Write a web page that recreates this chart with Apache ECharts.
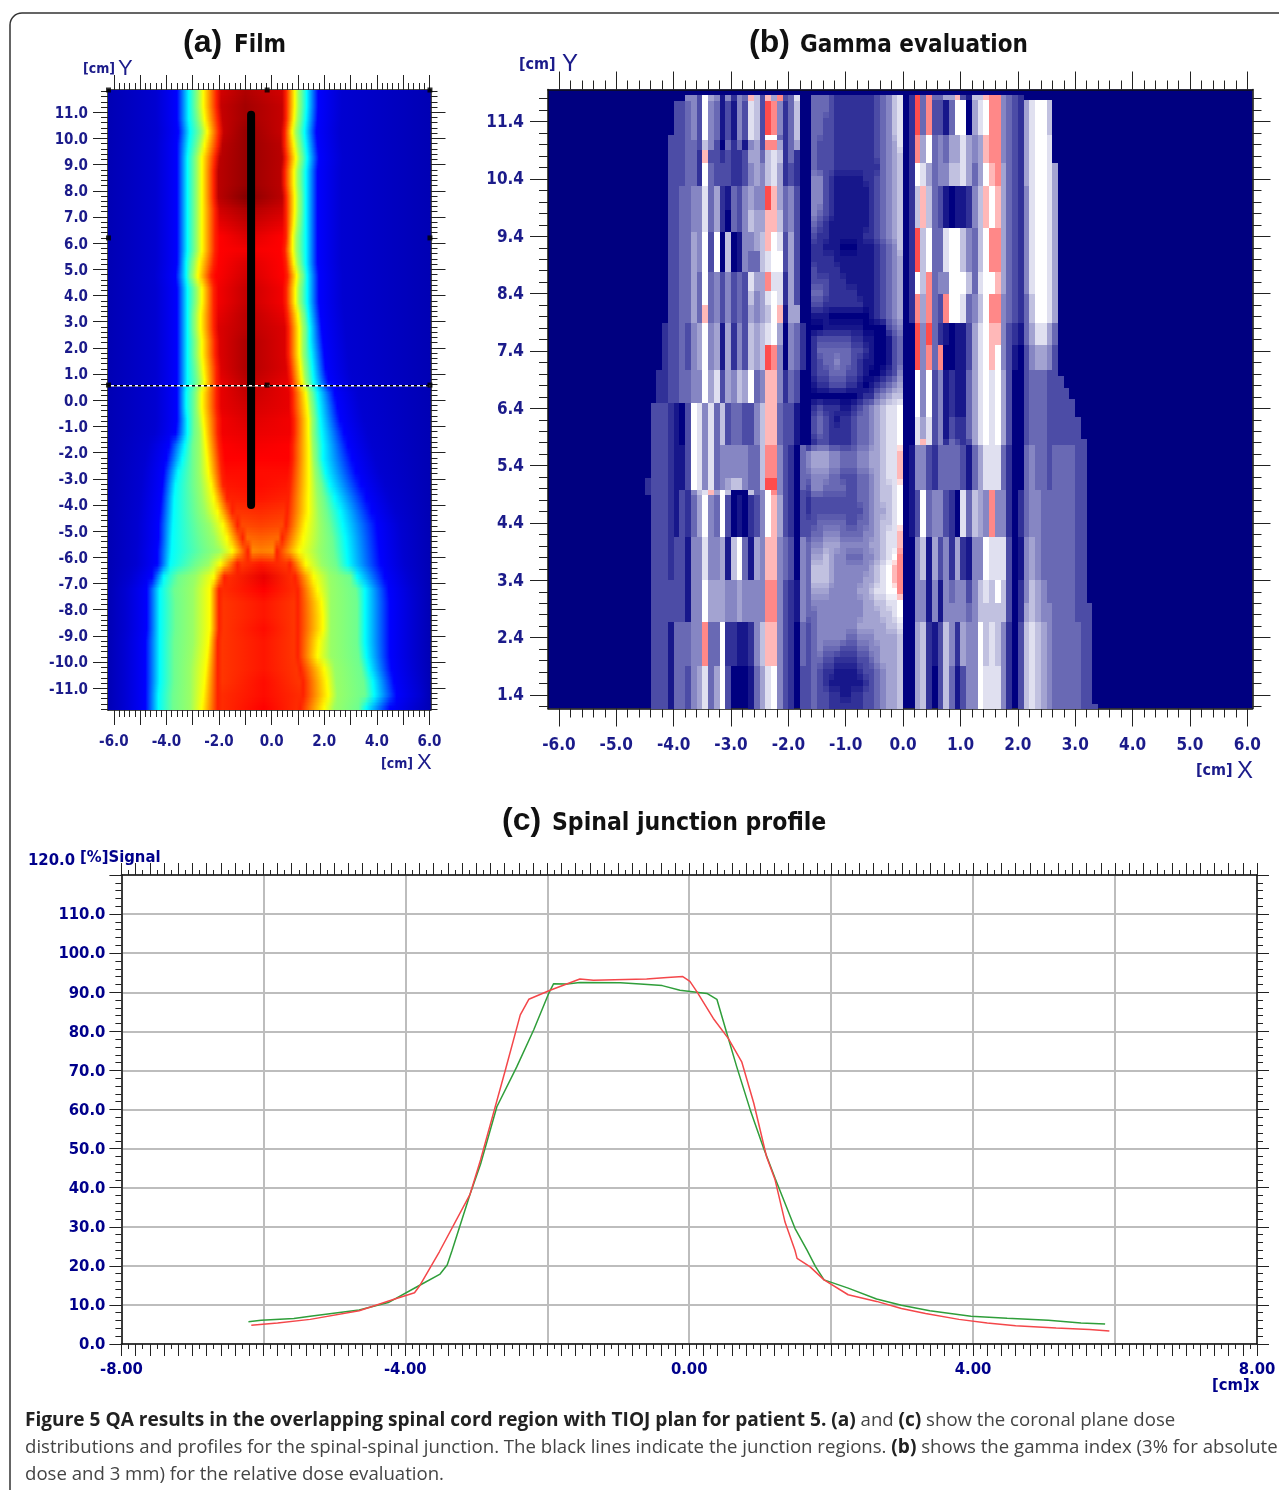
<!DOCTYPE html>
<html><head><meta charset="utf-8">
<style>html,body{margin:0;padding:0;background:#fff}#c{width:1279px;height:1490px}</style>
<script src="https://cdn.jsdelivr.net/npm/echarts@6/dist/echarts.min.js"></script>
</head><body><div id="c"></div>
<script>
// ---------- Panel (a): film, contour positions (cm) read per 0.5 cm row ----------
const filmY=[11.75,11.25,10.75,10.25,9.75,9.25,8.75,8.25,7.75,7.25,6.75,6.25,5.75,5.25,4.75,4.25,3.75,3.25,2.75,2.25,1.75,1.25,.75,.25,-.25,-.75,-1.25,-1.75,-2.25,-2.75,-3.25,-3.75,-4.25,-4.75,-5.25,-5.75,-6.25,-6.75,-7.25,-7.75,-8.25,-8.75,-9.25,-9.75,-10.25,-10.75,-11.25,-11.75];
const filmBlueL=[-3.6,-3.6,-3.6,-3.55,-3.6,-3.6,-3.6,-3.6,-3.6,-3.6,-3.6,-3.6,-3.6,-3.6,-3.65,-3.6,-3.6,-3.6,-3.6,-3.6,-3.6,-3.6,-3.6,-3.6,-3.6,-3.6,-3.65,-3.9,-4.0,-4.1,-4.15,-4.2,-4.25,-4.3,-4.3,-4.35,-4.35,-4.55,-4.75,-4.75,-4.75,-4.75,-4.8,-4.8,-4.8,-4.8,-4.8,-4.8];
const filmCyanL=[-3.15,-3.15,-3.15,-3.1,-3.15,-3.2,-3.2,-3.2,-3.2,-3.2,-3.2,-3.2,-3.2,-3.25,-3.25,-3.2,-3.2,-3.2,-3.2,-3.2,-3.2,-3.2,-3.2,-3.25,-3.25,-3.2,-3.2,-3.3,-3.4,-3.55,-3.65,-3.7,-3.72,-3.75,-3.78,-3.8,-3.85,-4.1,-4.25,-4.25,-4.25,-4.25,-4.25,-4.25,-4.25,-4.25,-4.3,-4.3];
const filmG1L=[-2.9,-2.9,-2.85,-2.75,-2.85,-2.95,-2.95,-2.95,-2.95,-2.95,-2.95,-2.95,-2.95,-3.05,-3.1,-2.95,-2.95,-3.0,-3.0,-2.95,-2.95,-2.9,-2.85,-2.95,-2.95,-2.95,-2.95,-3.0,-3.0,-3.0,-3.0,-2.95,-2.9,-2.8,-2.7,-2.6,-2.9,-3.55,-3.7,-3.65,-3.65,-3.65,-3.7,-3.7,-3.7,-3.7,-3.75,-3.75];
const filmG2L=[-2.8,-2.8,-2.75,-2.65,-2.75,-2.85,-2.85,-2.85,-2.85,-2.85,-2.85,-2.85,-2.85,-2.95,-3.0,-2.85,-2.85,-2.9,-2.9,-2.85,-2.85,-2.8,-2.75,-2.85,-2.85,-2.8,-2.75,-2.75,-2.75,-2.75,-2.7,-2.65,-2.55,-2.35,-2.2,-2.0,-2.4,-2.9,-3.0,-3.0,-3.0,-3.0,-3.0,-3.05,-3.1,-3.1,-3.1,-3.1];
const filmYellowL=[-2.6,-2.6,-2.55,-2.45,-2.55,-2.65,-2.65,-2.65,-2.65,-2.65,-2.65,-2.65,-2.65,-2.75,-2.8,-2.65,-2.65,-2.7,-2.7,-2.65,-2.65,-2.6,-2.55,-2.65,-2.65,-2.6,-2.55,-2.5,-2.45,-2.4,-2.3,-2.2,-2.05,-1.85,-1.7,-1.5,-1.95,-2.2,-2.35,-2.35,-2.35,-2.35,-2.4,-2.45,-2.5,-2.55,-2.6,-2.65];
const filmRedL=[-2.1,-2.1,-2.05,-2.0,-2.05,-2.15,-2.2,-2.2,-2.2,-2.15,-2.15,-2.15,-2.15,-2.2,-2.3,-2.2,-2.2,-2.2,-2.2,-2.15,-2.15,-2.1,-2.1,-2.1,-2.1,-2.05,-2.05,-2.0,-1.95,-1.9,-1.85,-1.7,-1.5,-1.3,-1.1,-.9,-1.3,-1.8,-2.0,-2.0,-2.0,-2.0,-2.05,-2.05,-2.05,-2.05,-2.05,-2.05];
const filmRedR=[.55,.55,.55,.5,.5,.55,.5,.5,.55,.55,.55,.55,.5,.55,.6,.55,.55,.6,.65,.65,.65,.7,.75,.8,.8,.85,.85,.8,.8,.75,.7,.65,.6,.55,.4,.2,.7,.9,1.0,1.0,1.0,1.0,1.0,1.0,1.1,1.2,1.2,1.1];
const filmYellowR=[.88,.88,.85,.78,.85,.92,.85,.85,.88,.88,.85,.8,.8,.85,.95,.9,.9,1.0,1.05,1.05,1.05,1.1,1.15,1.3,1.35,1.4,1.4,1.42,1.42,1.42,1.42,1.4,1.4,1.3,1.2,1.05,1.3,1.6,1.75,1.9,1.95,1.95,1.8,1.75,2.0,2.1,2.15,2.0];
const filmG2R=[1.03,1.03,1.0,.93,1.0,1.07,1.0,1.0,1.03,1.03,1.0,.95,.95,1.0,1.1,1.05,1.05,1.15,1.2,1.2,1.2,1.25,1.3,1.45,1.5,1.55,1.55,1.57,1.6,1.65,1.7,1.75,1.8,1.85,1.85,1.8,1.9,2.2,2.25,2.25,2.25,2.25,2.25,2.25,2.4,2.45,2.5,2.4];
const filmG1R=[1.13,1.13,1.1,1.03,1.1,1.17,1.1,1.1,1.13,1.13,1.1,1.05,1.05,1.1,1.2,1.15,1.15,1.25,1.3,1.3,1.3,1.35,1.4,1.55,1.6,1.65,1.65,1.7,1.72,1.8,1.9,2.0,2.1,2.2,2.3,2.35,2.45,3.0,3.2,3.25,3.25,3.25,3.25,3.3,3.4,3.5,3.55,3.3];
const filmCyanR=[1.33,1.33,1.3,1.25,1.3,1.35,1.3,1.3,1.3,1.3,1.3,1.3,1.3,1.3,1.35,1.35,1.35,1.4,1.45,1.45,1.5,1.55,1.6,1.75,1.8,1.85,1.9,1.95,1.95,2.05,2.2,2.4,2.6,2.7,2.8,2.85,2.9,3.25,3.55,3.55,3.55,3.55,3.55,3.6,3.7,3.85,3.9,3.6];
const filmBlueR=[1.77,1.77,1.75,1.7,1.75,1.8,1.75,1.75,1.75,1.75,1.75,1.75,1.75,1.75,1.8,1.8,1.8,1.85,1.9,1.95,2.0,2.05,2.15,2.4,2.5,2.6,2.75,2.9,3.05,3.2,3.4,3.6,3.8,4.0,4.05,4.1,4.15,4.3,4.45,4.5,4.5,4.5,4.5,4.5,4.55,4.65,4.75,4.5];
const filmPlateau=[.93,.94,.94,.94,.95,.95,.95,.95,.95,.93,.91,.89,.89,.89,.89,.9,.9,.91,.92,.92,.92,.92,.91,.91,.91,.9,.9,.89,.89,.88,.87,.86,.84,.82,.79,.76,.84,.85,.85,.84,.84,.84,.84,.84,.84,.84,.85,.85];
const filmPeak=[.96,.97,.97,.98,.98,.98,.98,.98,.995,.96,.94,.92,.9,.92,.93,.94,.94,.95,.95,.96,.96,.96,.95,.94,.93,.92,.91,.9,.89,.88,.88,.87,.85,.83,.8,.77,.87,.91,.89,.87,.87,.88,.87,.87,.87,.88,.88,.89];
const filmPeakX=[-1,-1,-1,-1,-1,-1,-1,-1,-1,-1,-1,-1,-1,-1,-1,-1,-1,-1,-1,-1,-1,-1,-1,-1,-1,-1,-1,-1,-1,-1,-.4,-.4,-.4,-.4,-.4,-.4,-.4,-.3,-.3,-.3,-.3,-.3,-.3,-.3,-.3,-.3,-.3,-.3];
const junctionX=[-.78,-.78], junctionY=[10.9,-4.0];
const profileLineY=.55;
const handleX=[-6.2,-.17,6.02,-6.2,6.02,-6.2,-.17,6.02], handleY=[11.85,11.85,11.85,6.2,6.2,.58,.58,.58];
const filmXLabels=[-6,-4,-2,0,2,4,6];

// ---------- Panel (b): gamma cells; 0-9 = navy to white, a-c = pink to red ----------
const gammaLeftEdges=[11.86,11.76,11.17,11.08,10.9,10.67,10.27,9.85,9.48,9.15,8.77,8.45,8.2,7.88,7.5,7.07,6.5,5.76,5.18,4.98,4.89,4.16,3.4,2.68,1.9,1.16];
const gammaLeftRows=[
"0000000 5 5 3 9 6 5 1 5 2 5 4 a 7 3 a 6 b 3 4 8 0",
"00000 3 3 4 5 3 9 5 4 1 3 1 5 3 8 7 3 c b 5 2 4 7 0",
"0000 3 3 3 4 5 3 9 5 4 1 3 1 5 3 8 7 3 9 9 4 2 4 7 0",
"0000 3 3 3 4 4 3 7 5 3 0 4 2 4 1 5 6 3 b b 6 2 4 6 0",
"0000 3 3 3 4 4 2 a 3 3 2 3 2 2 3 6 6 4 7 8 7 2 4 2 0",
"0000 3 3 3 4 4 2 9 4 3 3 3 2 2 3 5 6 5 7 8 6 2 3 2 0",
"0000 3 3 4 4 5 5 8 4 6 2 1 4 3 5 6 5 5 c a 6 4 5 3 0",
"0000 3 3 4 4 5 5 8 4 6 2 0 4 3 5 7 6 6 a a 7 4 5 3 0",
"0000 3 3 4 4 6 5 9 3 9 0 7 0 1 5 5 6 7 a 9 8 3 6 3 0",
"0000 3 3 4 4 6 5 9 3 9 0 7 0 1 5 4 4 7 8 9 9 3 6 3 0",
"0000 3 3 4 4 6 4 9 4 5 3 5 3 4 3 8 6 6 b 8 8 2 6 3 0",
"0000 3 3 4 4 6 4 9 4 5 3 5 3 4 3 7 5 6 8 9 8 2 6 3 0",
"0000 3 3 4 4 6 4 a 4 5 3 5 3 4 3 6 5 6 7 9 a 1 6 6 0",
"000 2 3 3 4 3 5 6 9 5 6 1 6 2 5 3 7 6 7 8 9 6 0 5 4 2",
"000 2 3 3 4 3 5 6 9 5 6 1 6 2 5 3 7 6 7 c b 5 0 5 4 2",
"00 2 2 3 3 4 4 5 5 9 6 8 3 6 5 7 6 9 4 5 a a 5 2 4 3 0",
"0 3 3 3 2 1 0 3 9 8 5 8 4 7 3 4 4 3 3 5 7 a a 4 3 3 1 0",
"0 3 3 3 2 1 1 3 9 8 5 8 4 5 5 5 5 5 4 4 7 b b 5 3 2 0 4",
"2 3 3 3 2 1 1 3 9 8 5 8 4 5 6 7 7 5 4 4 7 c c 5 3 2 0 4",
"2 3 3 3 2 1 3 2 5 7 8 a 6 9 7 0 0 0 7 4 5 9 b 5 3 2 0 3",
"0 3 3 3 2 1 3 2 4 6 9 5 4 9 3 0 1 0 2 3 5 9 a 6 3 2 0 3",
"0 3 3 3 2 3 3 1 5 5 8 5 5 6 1 7 9 4 1 6 5 a a 5 4 3 0 5",
"0 3 3 3 3 3 3 1 5 5 9 6 6 6 5 5 6 5 5 5 5 b b 5 3 2 1 5",
"0 3 3 3 1 4 4 4 5 5 b 4 4 9 2 2 1 1 2 5 7 a a 5 3 2 0 4",
"0 3 3 3 1 4 4 3 5 6 8 4 6 9 3 0 0 0 1 4 6 8 9 5 3 2 0 3"];
const gammaCentreTop=[11.86,11.66,11.46,11.26,11.06,10.86,10.66,10.46,10.26,10.06,9.86,9.66,9.46,9.26,9.06,8.86,8.66,8.46,8.26,8.06,7.86,7.66,7.46,7.26,7.06,6.86,6.66,6.46,6.26,6.06,5.86,5.66,5.46,5.26,5.06,4.86,4.66,4.46,4.26,4.06,3.86,3.66,3.46,3.26,3.06,2.86,2.66,2.46,2.26,2.06,1.86,1.66,1.46,1.26];
const gammaCentreRows=["044432222222345780","044432222222345780","044332222222345780","044332222222345780","043332222222345680","043332222222345670","043332222222245670","055321111122345670","055321111112345670","055321111112345670","054321111112345670","043211111112345670","032211111122345670","022111000111234570","022221111111234560","032222111111234560","033322211111234560","044322222111234560","033222222211234560","011100000001234560","000111111100003450","023333332211001340","024444443321001340","023445443211001340","023344433210012350","012233322101234560","000000000122456770","023222112345678890","034321223445678890","034322223445678890","023322223445678890","5666554445566788a0","5666554445566788a0","4555443334456788a0","355444433445677890","233333333445677890","233333333345667890","334444433445677890","3445554444556788a0","4556665555566788a0","4667655444556789b0","477765555556789ab0","477765555566789ab0","4666555556678899b0","455555555566778890","445555555566677890","345555555666667780","345555544555666670","345444333445566670","344332222334566670","343221111233456670","343211111123456670","343322112233456670","343322222233456670"];
const gammaRightEdges=[11.86,11.78,11.17,10.67,10.27,9.55,8.77,8.4,7.88,7.5,7.07,6.97,6.75,6.56,6.25,5.86,5.76,4.98,4.16,3.4,3.0,2.68,1.9,1.25,1.16];
const gammaRightRows=[
"2 c 4 b 4 4 6 6 a 3 1 7 7 a b b 5 4 3 2",
"2 c 4 b 3 3 1 4 9 9 0 6 8 9 b b 5 4 3 2 6 8 9 9 7",
"2 b 6 9 4 5 4 6 6 8 6 5 6 a b b 5 4 3 2 6 8 9 9 8",
"2 9 8 6 4 5 5 7 7 8 6 4 6 9 a b 6 4 3 2 6 8 9 9 8 6",
"2 7 a 7 4 3 1 0 1 1 2 5 7 a 9 a 6 4 3 2 5 8 9 9 8 6",
"2 c 7 9 4 4 8 9 9 7 5 4 7 9 b b 6 4 3 2 5 8 9 9 8 6",
"2 9 7 b 4 5 5 9 9 9 7 4 8 9 9 a 6 4 3 2 5 8 9 9 8 6",
"2 b 6 b 4 3 b 9 9 8 4 5 7 9 b b 5 4 3 2 4 7 9 9 8 6",
"0 c 5 c 4 2 1 0 1 1 3 6 8 9 a a 5 3 2 1 4 6 8 8 6 4",
"0 c 5 b 4 b 0 0 1 1 3 6 8 9 a 9 5 3 1 0 3 5 6 6 5 3",
"0 9 5 9 3 5 1 2 1 1 4 6 8 9 8 9 6 3 0 0 3 4 4 4 3 3",
"0 9 5 9 3 5 1 2 1 1 4 6 8 9 8 9 6 3 0 0 3 4 4 4 3 3 3",
"0 9 5 9 3 5 1 2 1 1 4 6 8 9 8 9 6 3 0 0 3 4 4 4 3 3 3 3",
"0 9 5 9 3 5 1 2 1 1 4 6 8 9 8 9 6 3 0 0 3 4 4 4 3 3 3 3 3",
"0 8 6 8 3 5 1 3 2 2 4 6 8 9 8 9 6 3 0 0 3 4 4 4 3 3 3 3 3 3",
"0 8 a 8 3 5 2 4 3 2 3 6 8 9 8 9 6 3 0 0 3 4 4 4 3 3 3 3 3 3 3",
"1 5 5 3 2 4 4 4 4 3 1 4 6 8 8 8 4 2 0 0 4 5 4 4 3 4 4 4 4 3 3",
"1 3 9 4 5 5 3 2 0 8 4 7 6 5 b 5 5 2 0 2 4 5 5 4 4 4 4 4 4 3 3",
"0 5 7 1 6 3 5 2 6 2 1 5 5 9 8 8 8 3 0 1 5 6 5 4 4 4 4 4 4 3 3",
"0 5 5 1 5 1 5 4 5 5 3 5 7 8 7 9 7 3 0 2 5 7 6 5 4 4 4 4 4 3 3",
"0 5 5 1 5 1 5 5 5 5 4 5 7 7 7 7 7 3 0 2 6 7 6 5 5 4 4 4 4 3 3 3",
"0 6 7 2 1 3 7 5 2 6 5 5 9 7 8 7 5 2 0 3 7 8 7 6 5 4 4 4 4 4 3 3",
"0 6 7 2 0 3 7 4 1 3 5 5 9 8 8 8 5 2 0 3 7 8 7 6 5 4 4 4 4 4 3 3",
"0 6 7 2 0 3 7 4 1 3 5 5 9 8 8 8 5 2 0 3 7 8 7 6 5 4 4 4 4 4 3 3 3"];
const gammaLeftStart=-4.5, gammaCentreStart=-1.7, gammaRightStart=.1, gammaCellW=.1;
const gammaXLabels=[-6,-5,-4,-3,-2,-1,0,1,2,3,4,5,6];
const gammaYLabels=[1.4,2.4,3.4,4.4,5.4,6.4,7.4,8.4,9.4,10.4,11.4];

// ---------- Panel (c): profile ----------
const redX=[-6.17,-5.8,-5.34,-4.65,-4.18,-3.87,-3.79,-3.52,-3.09,-2.94,-2.59,-2.38,-2.26,-1.96,-1.54,-1.35,-.6,-.31,-.09,.01,.11,.34,.55,.74,.91,1.09,1.21,1.35,1.49,1.52,1.7,1.9,2.24,2.64,2.99,3.33,3.8,4.2,4.6,5.17,5.64,5.92];
const redY=[4.8,5.4,6.3,8.5,11.3,13.1,15.1,23.6,38.2,47.1,70.1,84.2,88.2,90.5,93.4,93.1,93.4,93.8,94,92.8,90.1,83.3,78.2,72.2,61.6,47.9,42,31.2,24,21.9,19.8,16.4,12.6,10.9,9.1,7.8,6.3,5.4,4.7,4.1,3.7,3.3];
const greenX=[-6.21,-6.03,-5.57,-5.34,-4.65,-4.24,-3.79,-3.51,-3.41,-3.34,-3.09,-2.94,-2.71,-2.43,-2.19,-1.98,-1.91,-1.72,-1.54,-.97,-.69,-.38,-.13,.25,.39,.53,.67,.86,1.05,1.21,1.49,1.66,1.78,1.9,2.24,2.64,2.99,3.39,3.97,4.48,5.06,5.52,5.86];
const greenY=[5.7,6.1,6.5,7.1,8.7,10.6,15.1,17.9,20.2,24,38.2,46,60.7,70.9,80.4,89.7,92.2,92.1,92.5,92.4,92.1,91.7,90.5,89.7,88.2,79.5,70.9,59.9,50,42.4,29.6,24,19.8,16.4,14.3,11.5,9.9,8.5,7.1,6.6,6.1,5.4,5.1];
const profileXLabels=[-8,-4,0,4,8];

const navy='#1b1b8a', navyC='#00008b', tick='#222';
const fontCond="'DejaVu Sans Condensed','DejaVu Sans'";
const jetStops=[[0,0,0,128],[.11,0,0,255],[.35,0,255,255],[.5,127,255,127],[.65,255,255,0],[.89,255,0,0],[1,128,0,0]];
function jet(v){for(let i=1;i<jetStops.length;i++){const a=jetStops[i-1],b=jetStops[i];if(v<=b[0]){const t=(v-a[0])/(b[0]-a[0]);return `rgb(${Math.round(a[1]+(b[1]-a[1])*t)},${Math.round(a[2]+(b[2]-a[2])*t)},${Math.round(a[3]+(b[3]-a[3])*t)})`;}}return 'rgb(128,0,0)';}
function gammaColor(c){if(c==='a')return '#ffb8b8';if(c==='b')return '#ff8888';if(c==='c')return '#ff4c4c';const g=Math.pow((+c)/9,1.1);return `rgb(${Math.round(255*g)},${Math.round(255*g)},${Math.round(128+127*g)})`;}

function seq(a,b,st){const r=[];const n=Math.round((b-a)/st);for(let i=0;i<=n;i++)r.push(+(a+i*st).toFixed(3));return r;}
const xAxes=[],yAxes=[];
function tickAxis(list,grid,pos,min,max,values,len,extra){
  list.push(Object.assign({type:'value',gridIndex:grid,position:pos,min,max,
    axisLine:{show:false,onZero:false},
    axisTick:{show:true,length:len,customValues:values,lineStyle:{color:tick,width:1}},
    axisLabel:{show:false},splitLine:{show:false}},extra||{}));
}
function frame(grid,xr,yr,xMaj,xMin,yMaj,yMin,L,xLab,yLab){
  const line={show:true,onZero:false,lineStyle:{color:'#111',width:1.5}};
  tickAxis(xAxes,grid,'bottom',xr[0],xr[1],xMaj,L.maj,{axisLine:line,axisLabel:xLab});
  tickAxis(yAxes,grid,'left',yr[0],yr[1],yMaj,L.majY,{axisLine:line,axisLabel:yLab});
  tickAxis(xAxes,grid,'top',xr[0],xr[1],xMaj,L.maj,{axisLine:line});
  tickAxis(yAxes,grid,'right',yr[0],yr[1],yMaj,L.majY,{axisLine:line});
  tickAxis(xAxes,grid,'bottom',xr[0],xr[1],xMin,L.min);
  tickAxis(xAxes,grid,'top',xr[0],xr[1],xMin,L.min);
  tickAxis(yAxes,grid,'left',yr[0],yr[1],yMin,L.minY);
  tickAxis(yAxes,grid,'right',yr[0],yr[1],yMin,L.minY);
}
const label=(font,size,color,margin,vals,fmt,lh)=>Object.assign({show:true,customValues:vals,fontFamily:font,fontWeight:'bold',fontSize:size,color,margin,formatter:fmt},lh?{verticalAlign:'top',lineHeight:lh}:{});

// Panel a axes
const AX=[-6.22,6.04],AY=[-11.83,11.85];
frame(0,AX,AY,seq(-6,6,1),seq(-6,6,.2),seq(-11,11,1),seq(-11.8,11.8,.2),{maj:15,min:7,majY:15,minY:7},
  label(fontCond,15,navy,25,filmXLabels,v=>v.toFixed(1)),
  label(fontCond,15,navy,20,seq(-11,11,1),v=>v.toFixed(1),3));
const bIdx=xAxes.length,bIdy=yAxes.length;
// Panel b axes
const BX=[-6.19,6.09],BY=[1.165,11.96];
frame(1,BX,BY,seq(-6,6,1),seq(-6,6,.2),gammaYLabels,seq(1.2,11.8,.2),{maj:18,min:9,majY:18,minY:9},
  label(fontCond,17,navy,29,gammaXLabels,v=>v.toFixed(1)),
  label(fontCond,17,navy,24,gammaYLabels,v=>v.toFixed(1),2));
const cIdx=xAxes.length,cIdy=yAxes.length;
// Panel c axes
frame(2,[-8,8],[0,120],seq(-8,8,.2),seq(-7.9,7.9,.2),seq(0,120,10),seq(0,120,2),{maj:12,min:5,majY:12,minY:6},
  label(fontCond,16.5,navyC,17,profileXLabels,v=>v.toFixed(2)),
  label(fontCond,16.5,navyC,16,seq(0,110,10),v=>v.toFixed(1),2));
const gl={show:true,lineStyle:{color:'#bdbdbd',width:2}};
xAxes.push({type:'value',gridIndex:2,position:'bottom',min:-8,max:8,interval:2,axisLine:{show:false,onZero:false},axisTick:{show:false},axisLabel:{show:false},splitLine:gl});
yAxes.push({type:'value',gridIndex:2,position:'left',min:0,max:120,interval:10,axisLine:{show:false,onZero:false},axisTick:{show:false},axisLabel:{show:false},splitLine:gl});

// gamma cells: [x0, x1, top, bottom, level, opacity]
const gammaCells=[];
function addCells(rows,tops,bottoms,x0){rows.forEach((r,i)=>{const s=r.replace(/ /g,'');for(let j=0;j<s.length;j++){if(s[j]==='0')continue;gammaCells.push([+(x0+j*gammaCellW).toFixed(2),+(x0+(j+1)*gammaCellW).toFixed(2),tops[i],bottoms[i],s[j],1]);}});}
addCells(gammaLeftRows,gammaLeftEdges.slice(0,-1),gammaLeftEdges.slice(1),gammaLeftStart);
const centreBottoms=gammaCentreTop.map(t=>Math.max(t-.2,BY[0]));
addCells(gammaCentreRows,gammaCentreTop,centreBottoms,gammaCentreStart);
// soften the 0.2 cm centre rows: next row shows through the lower half of each row
gammaCentreRows.forEach((r,i)=>{const n=gammaCentreRows[i+1];if(!n)return;const s=n.replace(/ /g,'');for(let j=0;j<s.length;j++){gammaCells.push([+(gammaCentreStart+j*gammaCellW).toFixed(2),+(gammaCentreStart+(j+1)*gammaCellW).toFixed(2),gammaCentreTop[i]-.1,centreBottoms[i],s[j],.5]);}});
addCells(gammaRightRows,gammaRightEdges.slice(0,-1),gammaRightEdges.slice(1),gammaRightStart);

function filmStops(i){
  const w=AX[1]-AX[0],o=x=>Math.min(1,Math.max(0,(x-AX[0])/w));
  const P=[[AX[0],.045],[filmBlueL[i]-.8,.07],[filmBlueL[i],.11],[filmCyanL[i],.35],[filmG1L[i],.48],[filmG2L[i],.53],[filmYellowL[i],.65],[filmRedL[i],.86],[filmRedL[i]+.18,filmPlateau[i]],
    [filmPeakX[i],filmPeak[i]],[filmRedR[i]-.15,filmPlateau[i]],[filmRedR[i],.86],[filmYellowR[i],.65],[filmG2R[i],.53],[filmG1R[i],.48],[filmCyanR[i],.35],[filmBlueR[i],.11],[filmBlueR[i]+.9,.07],[AX[1],.045]];
  return P.map(p=>({offset:o(p[0]),color:jet(p[1])}));
}
const filmStrips=8;

const series=[
 {type:'custom',xAxisIndex:0,yAxisIndex:0,silent:true,z:1,data:filmY.map(y=>[AX[0],y]),
  renderItem(params,api){
    const i=params.dataIndex,y=api.value(1),cs=params.coordSys;
    const yTop=i===0?cs.y:Math.round(api.coord([AX[0],y])[1]);
    const next=filmY[i+1];
    const yEnd=next===undefined?cs.y+cs.height:Math.round(api.coord([AX[0],next])[1]);
    const yMid=Math.round(api.coord([AX[0],y])[1]);
    const fill=k=>({type:'linear',x:0,y:0,x2:1,y2:0,colorStops:filmStops(k)});
    const kids=[{type:'rect',shape:{x:cs.x,y:yTop,width:cs.width,height:yEnd-yTop},style:{fill:fill(i)}}];
    if(next!==undefined){
      for(let k=0;k<filmStrips;k++){
        const a=Math.round(yMid+(yEnd-yMid)*k/filmStrips),b=Math.round(yMid+(yEnd-yMid)*(k+1)/filmStrips);
        if(b>a)kids.push({type:'rect',shape:{x:cs.x,y:a,width:cs.width,height:b-a},style:{fill:fill(i+1),opacity:(k+.5)/filmStrips}});
      }
    }
    return {type:'group',children:kids};}},
 {type:'line',xAxisIndex:0,yAxisIndex:0,data:junctionX.map((x,i)=>[x,junctionY[i]]),symbol:'none',z:3,lineStyle:{color:'#000',width:8,cap:'round'}},
 {type:'line',xAxisIndex:0,yAxisIndex:0,data:[[AX[0],profileLineY],[AX[1],profileLineY]],symbol:'none',z:4,lineStyle:{color:'#fff',width:1.5}},
 {type:'line',xAxisIndex:0,yAxisIndex:0,data:[[AX[0],profileLineY],[AX[1],profileLineY]],symbol:'none',z:5,lineStyle:{color:'#000',width:1.5,type:[3,3]}},
 {type:'scatter',xAxisIndex:0,yAxisIndex:0,data:handleX.map((x,i)=>[x,handleY[i]]),symbol:'rect',symbolSize:5,z:6,itemStyle:{color:'#000'},clip:false},
 {type:'custom',xAxisIndex:bIdx,yAxisIndex:bIdy,silent:true,z:1,data:gammaCells,dimensions:['x0','x1','t','b','lv','op'],encode:{x:[0,1],y:[2,3]},
  renderItem(params,api){const d=gammaCells[params.dataIndex];
    const a=api.coord([d[0],d[2]]),b=api.coord([d[1],d[3]]);
    const x0=Math.round(a[0]),x1=Math.round(b[0]),y0=Math.round(a[1]),y1=Math.round(b[1]);
    return {type:'rect',shape:{x:x0,y:y0,width:x1-x0,height:y1-y0},style:{fill:gammaColor(d[4]),opacity:d[5]}};}},
 {type:'line',xAxisIndex:cIdx,yAxisIndex:cIdy,data:greenX.map((x,i)=>[x,greenY[i]]),symbol:'none',z:3,lineStyle:{color:'#2f9e3a',width:1.5}},
 {type:'line',xAxisIndex:cIdx,yAxisIndex:cIdy,data:redX.map((x,i)=>[x,redY[i]]),symbol:'none',z:4,lineStyle:{color:'#f4474a',width:1.5}}
];
const glx=xAxes.length-1,gly=yAxes.length-1;
series.push({type:'line',xAxisIndex:glx,yAxisIndex:gly,data:[],symbol:'none'});

const T=(text,x,y,font,fill,align)=>({type:'text',x,y,silent:true,z:100,style:{text,font,fill,textAlign:align||'left',textVerticalAlign:'middle'}});
const cond=(w,s)=>`${w} ${s}px 'DejaVu Sans Condensed','DejaVu Sans'`;
const cap="'Open Sans'";
const capRich={b:{font:`bold 19.1px ${cap}`,fill:'#222'},r:{font:`18.6px ${cap}`,fill:'#444'}};
const graphic=[
 {type:'rect',z:90,silent:true,shape:{x:10,y:13,width:1320,height:1500,r:12},style:{fill:'none',stroke:'#333',lineWidth:1.5}},
 T('(a)',183,43,"bold 32px 'Liberation Sans'",'#111'),T('Film',234,46,cond('bold',24),'#111'),
 T('(b)',749,43,"bold 32px 'Liberation Sans'",'#111'),T('Gamma evaluation',800,46,cond('bold',24),'#111'),
 T('(c)',502,821,"bold 32px 'Liberation Sans'",'#111'),T('Spinal junction profile',552,824,cond('bold',24.5),'#111'),
 T('[cm]',83,69,cond('bold',14),navy),T('Y',118,69,"22px 'Liberation Sans'",navy),
 T('[cm]',519,65,cond('bold',16),navy),T('Y',562,64,"24px 'Liberation Sans'",navy),
 T('[cm]',381,764,cond('bold',14),navy),T('X',417,763,"22px 'Liberation Sans'",navy),
 T('[cm]',1196,771,cond('bold',16),navy),T('X',1237,771,"24px 'Liberation Sans'",navy),
 T('120.0',28,861,cond('bold',16.5),navyC),T('[%]Signal',80,858,cond('bold',16.5),navyC),
 T('[cm]x',1212,1386,cond('bold',16.5),navyC),
 {type:'text',x:25,y:1421,z:100,silent:true,style:{textVerticalAlign:'middle',text:'{b|Figure 5 QA results in the overlapping spinal cord region with TIOJ plan for patient 5. (a)}{r| and }{b|(c)}{r| show the coronal plane dose}',rich:capRich}},
 {type:'text',x:25,y:1448,z:100,silent:true,style:{textVerticalAlign:'middle',text:'{r|distributions and profiles for the spinal-spinal junction. The black lines indicate the junction regions. }{b|(b)}{r| shows the gamma index (3% for absolute}',rich:capRich}},
 {type:'text',x:25,y:1475,z:100,silent:true,style:{textVerticalAlign:'middle',text:'dose and 3 mm) for the relative dose evaluation.',font:`18.6px ${cap}`,fill:'#444'}}
];

const chart=echarts.init(document.getElementById('c'),null,{renderer:'canvas'});
chart.setOption({
 animation:false,backgroundColor:'#fff',
 grid:[
  {left:108,top:90,width:322.5,height:620,show:true,backgroundColor:'#0000b0',borderWidth:0},
  {left:548,top:89.5,width:704.5,height:619,show:true,backgroundColor:'#000080',borderWidth:0},
  {left:121.4,top:875,width:1135.6,height:469}
 ],
 xAxis:xAxes,yAxis:yAxes,series,graphic
});
</script></body></html>
